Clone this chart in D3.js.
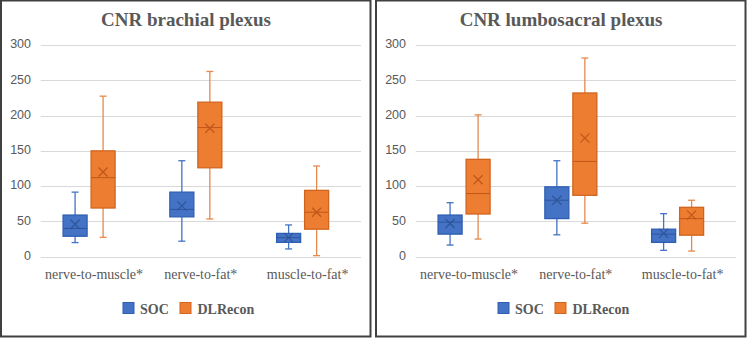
<!DOCTYPE html>
<html>
  <head>
    <meta charset="utf-8">
    <title>CNR box plots</title>
    <script src="https://d3js.org/d3.v7.min.js"></script>
    <style>
      body { margin: 0; background: white; }
      .grid line { stroke: #d9d9d9; stroke-width: 1; }
      .tick-label { font-family: "Liberation Sans", sans-serif; font-size: 12.5px; fill: #595959; }
      .cat-label { font-family: "Liberation Serif", serif; font-size: 14px; fill: #595959; }
      .title { font-family: "Liberation Serif", serif; font-size: 19px; font-weight: bold; fill: #595959; }
      .legend text { font-family: "Liberation Serif", serif; font-size: 14px; font-weight: bold; fill: #595959; }
      .frame { fill: none; stroke: #404040; stroke-width: 2; }
    </style>
  </head>
  <body>
    <script>
      // categories / series
      var categories = ['nerve-to-muscle*', 'nerve-to-fat*', 'muscle-to-fat*'];
      var series = ['SOC', 'DLRecon'];
      var yTicks = [0, 50, 100, 150, 200, 250, 300];

      // each row: [min, q1, median, q3, max, mean] per category
      var brachialSOC = [[20, 29, 40, 59, 91.5, 46], [22, 56.5, 67, 91.5, 136, 72], [11, 20.3, 27, 33, 45, 27]];
      var brachialDL = [[27.5, 69, 112, 150, 227.5, 120], [53.5, 126, 183, 219, 262.5, 182], [1.5, 39, 63, 94, 128.5, 63]];
      var lumboSOC = [[16.5, 32, 49, 59, 76.5, 47], [31, 54, 80, 99, 136, 80], [9, 20.3, 32, 39, 61, 33]];
      var lumboDL = [[25, 60.5, 89.5, 138, 201, 109], [47.5, 87, 135, 232, 281.5, 168], [8, 30.5, 54, 70, 80, 59]];

      var panels = [
        { title: 'CNR brachial plexus', data: { SOC: brachialSOC, DLRecon: brachialDL } },
        { title: 'CNR lumbosacral plexus', data: { SOC: lumboSOC, DLRecon: lumboDL } }
      ];

      var colors = {
        SOC: { fill: '#4472c4', stroke: '#2f5fb3', whisker: '#4472c4', mark: '#2f559a' },
        DLRecon: { fill: '#ed7d31', stroke: '#d0651f', whisker: '#e58a4c', mark: '#c0561a' }
      };

      var W = 749, H = 338;
      var svg = d3.select('body').append('svg').attr('width', W).attr('height', H);

      var y = d3.scaleLinear().domain([0, 300]).range([256.7, 45]);
      var x = d3.scaleBand().domain(categories).range([40.7, 361]).padding(0);
      var x1 = d3.scaleBand().domain(series).range([-33, 23]);
      var boxW = 24;

      panels.forEach(function(p, pi) {
        var g = svg.append('g').attr('transform', 'translate(' + (pi * 375) + ',0)');

        g.append('rect').attr('class', 'frame')
          .attr('x', 1).attr('y', 0.5).attr('width', 369.5).attr('height', 336);

        g.append('text').attr('class', 'title')
          .attr('x', 186).attr('y', 26).attr('text-anchor', 'middle').text(p.title);

        // gridlines
        g.append('g').attr('class', 'grid').selectAll('line').data(yTicks).enter().append('line')
          .attr('x1', x.range()[0]).attr('x2', x.range()[1])
          .attr('y1', function(d){ return Math.round(y(d)) + 0.5 })
          .attr('y2', function(d){ return Math.round(y(d)) + 0.5 });

        g.selectAll('.tick-label').data(yTicks).enter().append('text')
          .attr('class', 'tick-label')
          .attr('x', 31).attr('y', function(d){ return y(d) })
          .attr('text-anchor', 'end').attr('dominant-baseline', 'middle')
          .text(function(d){ return d });

        g.selectAll('.cat-label').data(categories).enter().append('text')
          .attr('class', 'cat-label')
          .attr('x', function(d){ return x(d) + x.bandwidth() / 2 })
          .attr('y', 279).attr('text-anchor', 'middle')
          .text(function(d){ return d });

        series.forEach(function(s) {
          var c = colors[s];
          categories.forEach(function(cat, ci) {
            var v = p.data[s][ci];
            var cx = x(cat) + x.bandwidth() / 2 + x1(s) + x1.bandwidth() / 2;
            var b = g.append('g');
            // whiskers
            b.append('line').attr('x1', cx).attr('x2', cx).attr('y1', y(v[4])).attr('y2', y(v[3]))
              .attr('stroke', c.whisker).attr('stroke-width', 1.3);
            b.append('line').attr('x1', cx).attr('x2', cx).attr('y1', y(v[1])).attr('y2', y(v[0]))
              .attr('stroke', c.whisker).attr('stroke-width', 1.3);
            [v[0], v[4]].forEach(function(w) {
              b.append('line').attr('x1', cx - 3.5).attr('x2', cx + 3.5).attr('y1', y(w)).attr('y2', y(w))
                .attr('stroke', c.whisker).attr('stroke-width', 1.3);
            });
            // box
            b.append('rect').attr('x', cx - boxW / 2).attr('width', boxW)
              .attr('y', y(v[3])).attr('height', y(v[1]) - y(v[3]))
              .attr('fill', c.fill).attr('stroke', c.stroke).attr('stroke-width', 1.3);
            // median
            b.append('line').attr('x1', cx - boxW / 2).attr('x2', cx + boxW / 2)
              .attr('y1', y(v[2])).attr('y2', y(v[2]))
              .attr('stroke', c.mark).attr('stroke-width', 1);
            // mean marker
            var my = y(v[5]), r = 4.5;
            b.append('path')
              .attr('d', 'M' + (cx - r) + ',' + (my - r) + 'L' + (cx + r) + ',' + (my + r) +
                         'M' + (cx - r) + ',' + (my + r) + 'L' + (cx + r) + ',' + (my - r))
              .attr('stroke', c.mark).attr('stroke-width', 1.2).attr('fill', 'none');
          });
        });

        // legend
        var lg = g.append('g').attr('class', 'legend');
        var lx = [123, 180], tx = [140, 197.5];
        series.forEach(function(s, si) {
          lg.append('rect').attr('x', lx[si]).attr('y', 302.5).attr('width', 11).attr('height', 11)
            .attr('fill', colors[s].fill).attr('stroke', colors[s].stroke).attr('stroke-width', 1);
          lg.append('text').attr('x', tx[si]).attr('y', 313.5).text(s);
        });
      });
    </script>
  </body>
</html>
